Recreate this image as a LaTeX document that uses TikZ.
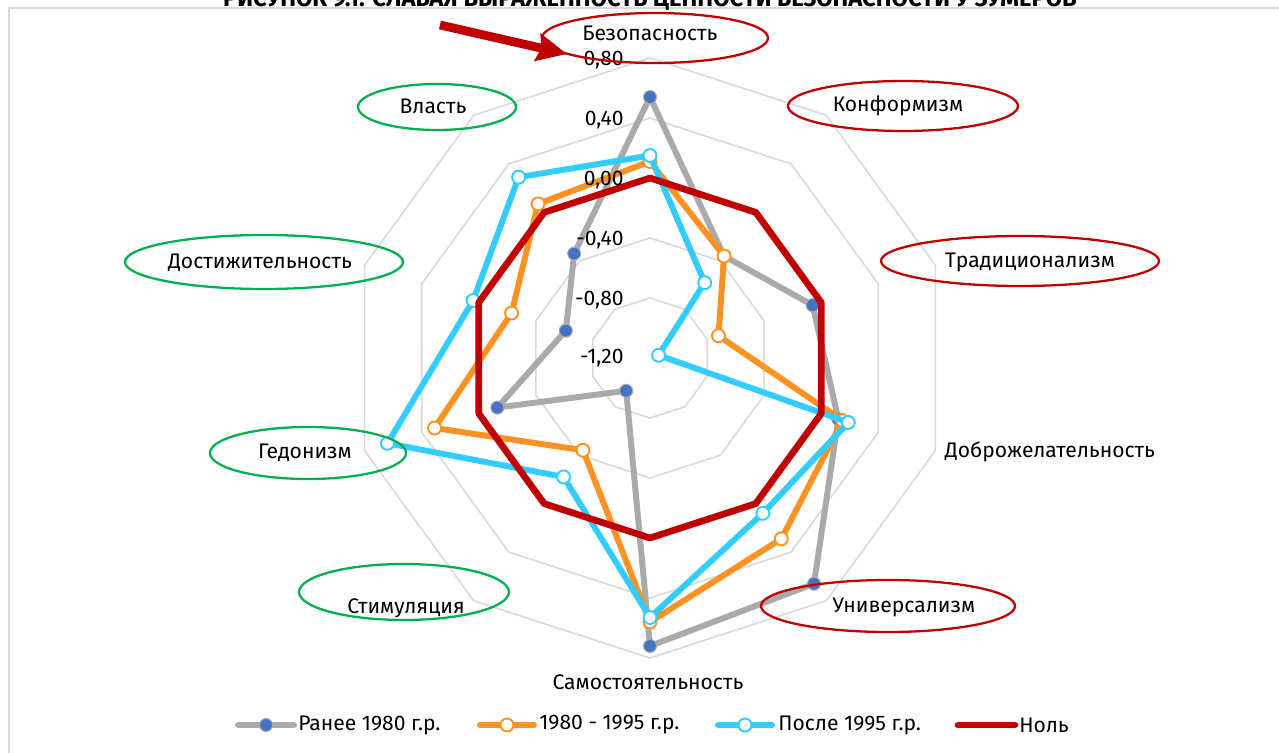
\documentclass[tikz,border=0pt]{standalone}
\usepackage{fontspec}
\setmainfont{Fira Sans}
\usetikzlibrary{arrows.meta}

\definecolor{gridGray}{RGB}{217,217,217}
\definecolor{olderGray}{RGB}{170,170,170}
\definecolor{markBlue}{RGB}{68,114,196}
\definecolor{midOrange}{RGB}{252,146,34}
\definecolor{youngCyan}{RGB}{51,204,255}
\definecolor{zeroRed}{RGB}{192,0,0}
\definecolor{ovalGreen}{RGB}{0,176,80}

\newcommand\chartfont{\fontsize{12}{14}\selectfont}

\tikzset{
  frame line/.style={draw=gridGray, line width=0.8pt},
  title text/.style={font=\fontsize{13.5}{15}\selectfont\bfseries, inner sep=0pt},
  grid ring/.style={draw=gridGray, line width=0.9pt},
  tick label/.style={font=\chartfont, anchor=east, inner sep=0pt},
  axis label/.style={font=\chartfont, inner sep=0pt},
  legend text/.style={font=\chartfont, anchor=west, inner sep=0pt},
  series line/.style={line width=3.4pt, line join=round, line cap=round},
  old mark/.style={fill=markBlue, draw=olderGray, line width=0.6pt},
  open mark/.style={fill=white, line width=1.1pt},
  red oval/.style={draw=zeroRed, line width=1.3pt},
  green oval/.style={draw=ovalGreen, line width=1.3pt},
  pointer/.style={draw=zeroRed, line width=5pt,
    -{Stealth[length=0.6cm, width=0.55cm, inset=0.08cm]}}
}

\begin{document}
\begin{tikzpicture}[x=0.02cm, y=-0.02cm]
  \useasboundingbox (0,0) rectangle (1279,753);
  % frame and title (cut at the top edge)
  \draw[frame line] (9,8) rectangle (1300,780);
  \node[title text, anchor=base] (title) at (650,7)
    {РИСУНОК 9.1. СЛАБАЯ ВЫРАЖЕННОСТЬ ЦЕННОСТИ БЕЗОПАСНОСТИ У ЗУМЕРОВ};

  % values, clockwise from Безопасность
  \def\seriesOld{0.54,-0.36,-0.06,0.12,0.66,0.72,-0.93,-0.13,-0.61,-0.34}
  \def\seriesMid{0.11,-0.36,-0.72,0.15,0.29,0.56,-0.44,0.31,-0.23,0.07}
  \def\seriesYoung{0.15,-0.58,-1.14,0.19,0.08,0.53,-0.22,0.64,0.04,0.29}
  \def\seriesZero{0,0,0,0,0,0,0,0,0,0}

  \begin{scope}[shift={(650,358)}]
    % rings every 0.40, centre is -1.20
    \foreach \r in {60,120,...,300}
      \draw[grid ring] (-90:\r) \foreach \k in {1,...,9} { -- ({-90+36*\k}:\r) } -- cycle;

    \foreach \v [count=\k from 0] in \seriesOld
      \coordinate (old\k) at ({-90+36*\k}:{(\v+1.2)*150});
    \foreach \v [count=\k from 0] in \seriesMid
      \coordinate (mid\k) at ({-90+36*\k}:{(\v+1.2)*150});
    \foreach \v [count=\k from 0] in \seriesYoung
      \coordinate (young\k) at ({-90+36*\k}:{(\v+1.2)*150});
    \foreach \v [count=\k from 0] in \seriesZero
      \coordinate (zero\k) at ({-90+36*\k}:{(\v+1.2)*150});
  \end{scope}

  % series
  \draw[series line, draw=olderGray] (old0) \foreach \k in {1,...,9} { -- (old\k) } -- cycle;
  \foreach \k in {0,...,9} \draw[old mark] (old\k) circle (6.5);
  \draw[series line, draw=midOrange] (mid0) \foreach \k in {1,...,9} { -- (mid\k) } -- cycle;
  \foreach \k in {0,...,9} \draw[open mark, draw=midOrange] (mid\k) circle (6.5);
  \draw[series line, draw=youngCyan] (young0) \foreach \k in {1,...,9} { -- (young\k) } -- cycle;
  \foreach \k in {0,...,9} \draw[open mark, draw=youngCyan] (young\k) circle (6.5);
  \draw[series line, draw=zeroRed, line width=3.8pt] (zero0) \foreach \k in {1,...,9} { -- (zero\k) } -- cycle;

  % scale
  \node[tick label] (t1) at (624,60) {0,80};
  \node[tick label] (t2) at (624,120) {0,40};
  \node[tick label] (t3) at (624,180) {0,00};
  \node[tick label] (t4) at (624,240) {-0,40};
  \node[tick label] (t5) at (624,300) {-0,80};
  \node[tick label] (t6) at (624,358) {-1,20};

  % axis labels
  \node[axis label] (bez) at (650,33) {Безопасность};
  \node[axis label] (konf) at (898,106) {Конформизм};
  \node[axis label] (trad) at (1030,262) {Традиционализм};
  \node[axis label] (dobr) at (1050,452) {Доброжелательность};
  \node[axis label] (univ) at (904,607) {Универсализм};
  \node[axis label] (samo) at (648,682) {Самостоятельность};
  \node[axis label] (stim) at (406,608) {Стимуляция};
  \node[axis label] (gedo) at (305,453) {Гедонизм};
  \node[axis label] (dost) at (260,263) {Достижительность};
  \node[axis label] (vlast) at (433,106) {Власть};

  % ovals
  \draw[red oval] (655,38) ellipse [x radius=113, y radius=25];
  \draw[red oval] (903,106) ellipse [x radius=115, y radius=25];
  \draw[red oval] (1020,261) ellipse [x radius=139, y radius=25];
  \draw[red oval] (888,606) ellipse [x radius=127, y radius=26];
  \draw[green oval] (437,107) ellipse [x radius=79, y radius=23];
  \draw[green oval] (264,262) ellipse [x radius=139, y radius=27];
  \draw[green oval] (308,453) ellipse [x radius=98, y radius=26];
  \draw[green oval] (404,592) ellipse [x radius=105, y radius=28];

  % arrow to Безопасность
  \coordinate (arrow tail) at (440,25);
  \coordinate (arrow tip) at (567,54);
  \draw[pointer] (arrow tail) -- (arrow tip);

  % legend
  \draw[series line, draw=olderGray] (238,725) -- (294,725);
  \draw[old mark] (266,725) circle (6.5);
  \node[legend text] (leg old) at (298,725) {Ранее 1980 г.р.};
  \draw[series line, draw=midOrange] (480,725) -- (534,725);
  \draw[open mark, draw=midOrange] (507,725) circle (6.5);
  \node[legend text] (leg mid) at (539,725) {1980 - 1995 г.р.};
  \draw[series line, draw=youngCyan] (718,725) -- (772,725);
  \draw[open mark, draw=youngCyan] (745,725) circle (6.5);
  \node[legend text] (leg young) at (778,725) {После 1995 г.р.};
  \draw[series line, draw=zeroRed, line width=3.8pt] (958,725) -- (1015,725);
  \node[legend text] (leg zero) at (1019,725) {Ноль};
\end{tikzpicture}
\end{document}
